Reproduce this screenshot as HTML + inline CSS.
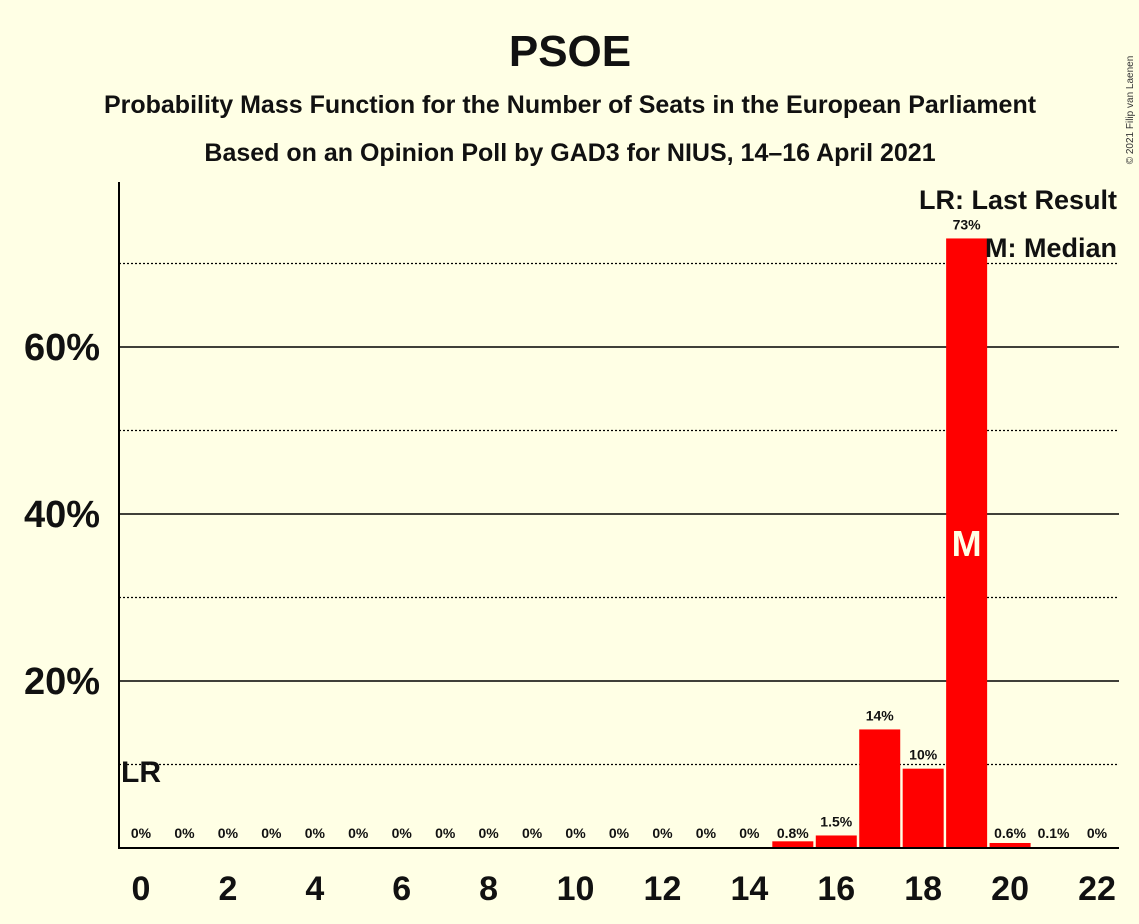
<!DOCTYPE html>
<html><head><meta charset="utf-8"><style>
html,body{margin:0;padding:0;background:#FFFFE5;}
svg{display:block;font-family:"Liberation Sans",sans-serif;}
</style></head><body>
<svg id="chart" width="1139" height="924" viewBox="0 0 1139 924">
<rect width="1139" height="924" fill="#FFFFE5"/>
<text x="570" y="66" text-anchor="middle" font-size="44" font-weight="bold" fill="#111">PSOE</text>
<text x="570" y="113" text-anchor="middle" font-size="25" font-weight="bold" fill="#111">Probability Mass Function for the Number of Seats in the European Parliament</text>
<text x="570" y="161" text-anchor="middle" font-size="25" font-weight="bold" fill="#111">Based on an Opinion Poll by GAD3 for NIUS, 14–16 April 2021</text>
<text x="1133" y="110" font-size="10" fill="#333" transform="rotate(-90 1133 110)" text-anchor="middle">© 2021 Filip van Laenen</text>
<g id="grid"></g>
<g id="bars"></g>
<g id="labels"></g>
<line x1="119" y1="182" x2="119" y2="849" stroke="#000" stroke-width="2"/>
<line x1="118" y1="848" x2="1119" y2="848" stroke="#000" stroke-width="2"/>
<text x="141" y="782" text-anchor="middle" font-size="30" font-weight="bold" fill="#111">LR</text>
<text x="1117" y="209" text-anchor="end" font-size="27" font-weight="bold" fill="#111">LR: Last Result</text>
<text x="1117" y="257" text-anchor="end" font-size="27" font-weight="bold" fill="#111">M: Median</text>
</svg>
<script>
const seats=[0,1,2,3,4,5,6,7,8,9,10,11,12,13,14,15,16,17,18,19,20,21,22];
const probs=[0,0,0,0,0,0,0,0,0,0,0,0,0,0,0,0.8,1.5,14.2,9.5,73,0.6,0.1,0];
const probLabels=["0%","0%","0%","0%","0%","0%","0%","0%","0%","0%","0%","0%","0%","0%","0%","0.8%","1.5%","14%","10%","73%","0.6%","0.1%","0%"];
const yTicks=[20,40,60];
const yDotted=[10,30,50,70];
const xTicks=[0,2,4,6,8,10,12,14,16,18,20,22];
const medianSeat=19;
const NS="http://www.w3.org/2000/svg";
const x=s=>141+s*(1097-141)/22;
const y=v=>848-v*8.35;
function mk(tag,attrs,parent,text){const e=document.createElementNS(NS,tag);for(const k in attrs)e.setAttribute(k,attrs[k]);if(text!=null)e.textContent=text;document.getElementById(parent).appendChild(e);return e;}
yDotted.forEach(v=>{const e=mk('line',{x1:119,x2:1119,y1:y(v),y2:y(v),stroke:'#000','stroke-width':1.3,'stroke-dasharray':'2,2'},'grid');

});
yTicks.forEach(v=>{const e=mk('line',{x1:119,x2:1119,y1:y(v),y2:y(v),stroke:'#000','stroke-width':1.6},'grid');


const t=mk('text',{x:100,y:y(v)+13,'text-anchor':'end','font-size':38,'font-weight':'bold',fill:'#111'},'grid',v+'%');

});
xTicks.forEach(s=>{const t=mk('text',{x:x(s),y:900,'text-anchor':'middle','font-size':34,'font-weight':'bold',fill:'#111'},'labels',String(s));

});
seats.forEach((s,i)=>{const v=probs[i];
if(v>0){const b=mk('rect',{x:x(s)-20.5,y:y(v),width:41,height:848-y(v),fill:'#FF0000'},'bars');

}
const t=mk('text',{x:x(s),y:v>1?y(v)-9:838,'text-anchor':'middle','font-size':14,'font-weight':'bold',fill:'#111'},'labels',probLabels[i]);

});
const mi=seats.indexOf(medianSeat);
const m=mk('text',{x:x(medianSeat),y:y(probs[mi]/2)+13,'text-anchor':'middle','font-size':36,'font-weight':'bold',fill:'#FFFFE5'},'labels','M');


</script>
</body></html>
